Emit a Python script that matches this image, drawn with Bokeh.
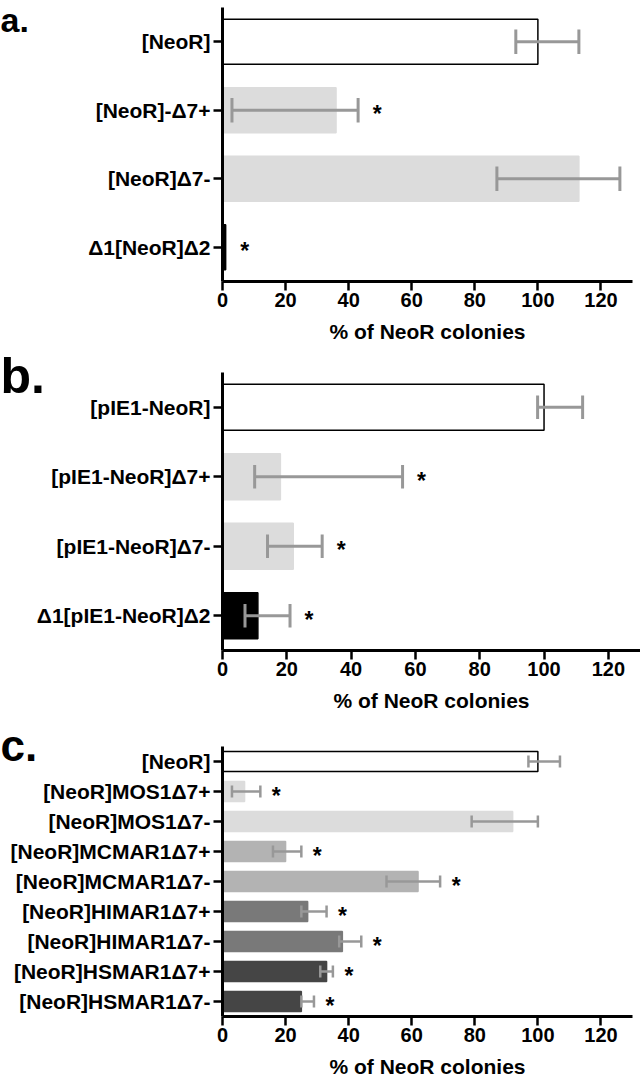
from bokeh.plotting import figure
from bokeh.models import Range1d, FixedTicker, ColumnDataSource, Title
from bokeh.layouts import column
from bokeh.core.properties import value
from bokeh.embed import file_html
from bokeh.resources import INLINE

FONT = "Liberation Sans"

# ---------------- data ----------------
# panel a
cats_a = ["[NeoR]", "[NeoR]-Δ7+", "[NeoR]Δ7-", "Δ1[NeoR]Δ2"]
vals_a = [100, 36, 113, 1]
lo_a = [93, 3, 87, None]
hi_a = [113, 43, 126, None]
sig_a = ["", "*", "", "*"]

# panel b
cats_b = ["[pIE1-NeoR]", "[pIE1-NeoR]Δ7+", "[pIE1-NeoR]Δ7-", "Δ1[pIE1-NeoR]Δ2"]
vals_b = [100, 18, 22, 11]
lo_b = [98, 10, 14, 7]
hi_b = [112, 56, 31, 21]
sig_b = ["", "*", "*", "*"]

# panel c
cats_c = ["[NeoR]", "[NeoR]MOS1Δ7+", "[NeoR]MOS1Δ7-", "[NeoR]MCMAR1Δ7+",
          "[NeoR]MCMAR1Δ7-", "[NeoR]HIMAR1Δ7+", "[NeoR]HIMAR1Δ7-",
          "[NeoR]HSMAR1Δ7+", "[NeoR]HSMAR1Δ7-"]
vals_c = [100, 7, 92, 20, 62, 27, 38, 33, 25]
lo_c = [97, 3, 79, 16, 52, 25, 37, 31, 25]
hi_c = [107, 12, 100, 25, 69, 33, 44, 35, 29]
sig_c = ["", "*", "", "*", "*", "*", "*", "*", "*"]

x_ticks = [0, 20, 40, 60, 80, 100, 120]
x_label = "% of NeoR colonies"
letters = ["a.", "b.", "c."]

# ---------------- styles ----------------
colors_a = ["white", "#dcdcdc", "#dcdcdc", "black"]
colors_b = ["white", "#dcdcdc", "#dcdcdc", "black"]
colors_c = ["white", "#dcdcdc", "#dcdcdc", "#b3b3b3", "#b3b3b3",
            "#797979", "#797979", "#454545", "#454545"]
ERR = "#989898"


def panel(letter, letter_size, letter_standoff, cats, vals, lo, hi, sig, colors,
          xmax, frame_w, frame_h, top, bottom, cap, err_w, star_dx):
    n = len(cats)
    p = figure(frame_width=frame_w, frame_height=frame_h,
               x_range=Range1d(0, xmax), y_range=Range1d(n - 0.5, -0.5),
               output_backend="svg", toolbar_location=None,
               min_border_left=222, min_border_right=640 - 222 - frame_w,
               min_border_top=top, min_border_bottom=bottom)
    p.title = Title(text=letter, align="left", offset=-222, standoff=letter_standoff,
                    text_font=FONT, text_font_style="bold",
                    text_font_size=letter_size, text_color="black")
    p.outline_line_color = None
    p.grid.visible = False
    p.background_fill_color = "white"

    idx = list(range(n))
    line_cols = ["black" if c == "white" else c for c in colors]
    src = ColumnDataSource(dict(y=idx, right=vals, fill=colors, line=line_cols))
    p.hbar(y="y", left=0, right="right", height=0.66, source=src,
           fill_color="fill", line_color="line", line_width=1.5)

    # error bars
    ey, elo, ehi = [], [], []
    for i in idx:
        if lo[i] is not None:
            ey.append(i); elo.append(lo[i]); ehi.append(hi[i])
    p.segment(x0=elo, y0=ey, x1=ehi, y1=ey, line_color=ERR, line_width=err_w)
    p.segment(x0=elo, y0=[y - cap for y in ey], x1=elo, y1=[y + cap for y in ey],
              line_color=ERR, line_width=err_w)
    p.segment(x0=ehi, y0=[y - cap for y in ey], x1=ehi, y1=[y + cap for y in ey],
              line_color=ERR, line_width=err_w)

    # significance stars
    sx, sy, st = [], [], []
    for i in idx:
        if sig[i]:
            top_val = hi[i] if hi[i] is not None else vals[i]
            sx.append(max(top_val, vals[i])); sy.append(i); st.append(sig[i])
    p.text(x=sx, y=sy, text=st, text_font=value(FONT), text_font_style="bold",
           text_font_size="23px", text_align="center", text_baseline="alphabetic",
           x_offset=star_dx, y_offset=4, text_color="black")

    # axes
    p.xaxis.ticker = FixedTicker(ticks=x_ticks)
    p.yaxis.ticker = FixedTicker(ticks=idx)
    p.yaxis.major_label_overrides = {i: c for i, c in enumerate(cats)}
    for ax in (p.xaxis[0], p.yaxis[0]):
        ax.axis_line_width = 3
        ax.axis_line_color = "black"
        ax.major_tick_line_width = 2.5
        ax.major_tick_line_color = "black"
        ax.major_tick_in = 0
        ax.major_tick_out = 9
        ax.minor_tick_line_color = None
        ax.major_label_text_font = FONT
        ax.major_label_text_font_style = "bold"
        ax.major_label_text_color = "black"
    p.yaxis.major_label_text_font_size = "21px"
    p.yaxis.major_label_standoff = 3
    p.xaxis.major_label_text_font_size = "20px"
    p.xaxis.major_label_standoff = 2
    p.xaxis.axis_label = x_label
    p.xaxis.axis_label_text_font = FONT
    p.xaxis.axis_label_text_font_style = "bold"
    p.xaxis.axis_label_text_font_size = "21px"
    p.xaxis.axis_label_text_color = "black"
    p.xaxis.axis_label_standoff = 10
    return p


pa = panel(letters[0], "34px", -62, cats_a, vals_a, lo_a, hi_a, sig_a, colors_a,
           130, 410, 274, 7, 66, 0.18, 3, 19)
pb = panel(letters[1], "50px", -63, cats_b, vals_b, lo_b, hi_b, sig_b, colors_b,
           130, 418, 278, 25, 72, 0.17, 3, 19)
pc = panel(letters[2], "44px", -46, cats_c, vals_c, lo_c, hi_c, sig_c, colors_c,
           130, 410, 270, 24, 66, 0.2, 2.5, 16)

layout = column(pa, pb, pc, spacing=0)
open("out.html", "w").write(file_html(layout, INLINE))
